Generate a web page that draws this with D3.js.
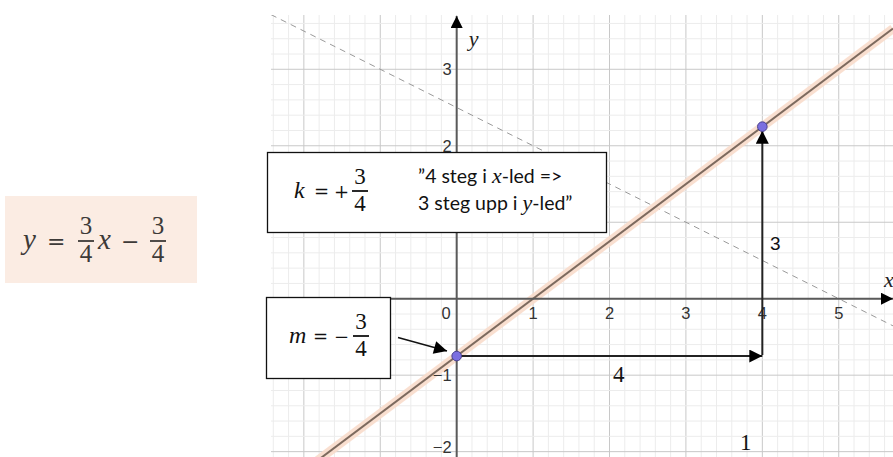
<!DOCTYPE html>
<html><head><meta charset="utf-8">
<script src="https://cdn.jsdelivr.net/npm/d3@7"></script>
<style>html,body{margin:0;padding:0;background:#fff;}svg{display:block;}</style>
</head><body>
<svg id="c" width="893" height="457"></svg>
<script>
// ---- data ----
const xTickValues = [1, 2, 3, 4, 5];
const yTickValues = [-2, -1, 2, 3];
const originLabel = "0";
const slopeNum = 3, slopeDen = 4;            // k = 3/4
const interceptNum = -3, interceptDen = 4;   // m = -3/4
const mainLine = { k: 0.75, m: -0.75 };
const dashedLine = { k: -0.5, m: 2.5 };
const points = [[0, -0.75], [4, 2.25]];
const runArrow = [[0, -0.75], [4, -0.75]];   // "4 steg i x-led"
const riseArrow = [[4, -0.75], [4, 2.25]];   // "3 steg upp"
const xDomain = [-2.43, 5.71];
const yDomain = [3.71, -2.07];

const svg = d3.select("#c");
const x = d3.scaleLinear().domain(xDomain).range([271, 893]);
const y = d3.scaleLinear().domain(yDomain).range([15, 457]);

const defs = svg.append("defs");
defs.append("clipPath").attr("id", "plot").append("rect")
  .attr("x", 271).attr("y", 15).attr("width", 622).attr("height", 442);
function marker(id, w, h) {
  defs.append("marker").attr("id", id).attr("viewBox", "0 0 10 10")
    .attr("refX", 10).attr("refY", 5).attr("markerUnits", "userSpaceOnUse")
    .attr("markerWidth", w).attr("markerHeight", h).attr("orient", "auto")
    .append("path").attr("d", "M0,0 L10,5 L0,10 Z").attr("fill", "#000");
}
marker("ah", 15, 13);
marker("ahAxis", 20, 12);

const g = svg.append("g").attr("clip-path", "url(#plot)");

// grid
const minor = d3.range(Math.ceil(xDomain[0] * 5), Math.floor(xDomain[1] * 5) + 1).map(v => v / 5);
const minorY = d3.range(Math.ceil(yDomain[1] * 5), Math.floor(yDomain[0] * 5) + 1).map(v => v / 5);
const isMajor = d => Math.abs(d - Math.round(d)) < 1e-9;
g.selectAll(".mx").data(minor).join("line")
  .attr("x1", d => x(d)).attr("x2", d => x(d)).attr("y1", 15).attr("y2", 457)
  .attr("stroke-width", 1)
  .attr("stroke", d => isMajor(d) ? "#c8c8c8" : "#ececec");
g.selectAll(".my").data(minorY).join("line")
  .attr("y1", d => y(d)).attr("y2", d => y(d)).attr("x1", 271).attr("x2", 893)
  .attr("stroke", d => isMajor(d) ? "#c8c8c8" : "#ececec");

// dashed line
g.append("line")
  .attr("x1", x(xDomain[0])).attr("y1", y(dashedLine.k * xDomain[0] + dashedLine.m))
  .attr("x2", x(xDomain[1])).attr("y2", y(dashedLine.k * xDomain[1] + dashedLine.m))
  .attr("stroke", "#9a9a9a").attr("stroke-width", 1).attr("stroke-dasharray", "6,5");

// axes
svg.append("line").attr("x1", 271).attr("x2", 893).attr("y1", y(0)).attr("y2", y(0))
  .attr("stroke", "#5a5a5a").attr("stroke-width", 2).attr("marker-end", "url(#ahAxis)");
svg.append("line").attr("x1", x(0)).attr("x2", x(0)).attr("y1", 457).attr("y2", 16)
  .attr("stroke", "#5a5a5a").attr("stroke-width", 2).attr("marker-end", "url(#ahAxis)");

// tick labels
const tickFont = "'Liberation Sans', Arial, sans-serif";
const tickSize = 16.5;
svg.selectAll(".xt").data(xTickValues).join("text")
  .attr("x", d => x(d)).attr("y", y(0) + 20).attr("text-anchor", "middle")
  .attr("font-family", tickFont).attr("font-size", tickSize).attr("fill", "#333").text(d => d);
svg.append("text").attr("x", x(0) - 6).attr("y", y(0) + 20).attr("text-anchor", "end")
  .attr("font-family", tickFont).attr("font-size", tickSize).attr("fill", "#333").text(originLabel);
svg.selectAll(".yt").data(yTickValues).join("text")
  .attr("x", x(0) - 5).attr("y", d => y(d) + (d === -2 ? 1 : 6)).attr("text-anchor", "end")
  .attr("font-family", tickFont).attr("font-size", tickSize).attr("fill", "#333")
  .text(d => d < 0 ? "\u2212" + Math.abs(d) : d);
const mathFont = "'Liberation Serif', 'Times New Roman', serif";
const opFont = "'DejaVu Serif', serif";
svg.append("text").attr("x", x(0) + 12).attr("y", 46).attr("font-family", mathFont)
  .attr("font-style", "italic").attr("font-size", 22).attr("fill", "#222").text("y");
svg.append("text").attr("x", 884).attr("y", 287).attr("font-family", mathFont)
  .attr("font-style", "italic").attr("font-size", 22).attr("fill", "#222").text("x");

// main line with halo
const mx0 = xDomain[0], mx1 = xDomain[1];
g.append("line")
  .attr("x1", x(mx0)).attr("y1", y(mainLine.k * mx0 + mainLine.m))
  .attr("x2", x(mx1)).attr("y2", y(mainLine.k * mx1 + mainLine.m))
  .attr("stroke", "#f8dccb").attr("stroke-width", 9).attr("stroke-opacity", 0.9);
g.append("line")
  .attr("x1", x(mx0)).attr("y1", y(mainLine.k * mx0 + mainLine.m))
  .attr("x2", x(mx1)).attr("y2", y(mainLine.k * mx1 + mainLine.m))
  .attr("stroke", "#7d6a5e").attr("stroke-width", 2);

// step arrows
svg.append("line").attr("x1", x(runArrow[0][0]) + 4).attr("y1", y(runArrow[0][1]))
  .attr("x2", x(runArrow[1][0])).attr("y2", y(runArrow[1][1]))
  .attr("stroke", "#222").attr("stroke-width", 2).attr("marker-end", "url(#ah)");
svg.append("line").attr("x1", x(riseArrow[0][0])).attr("y1", y(riseArrow[0][1]) - 1)
  .attr("x2", x(riseArrow[1][0])).attr("y2", y(riseArrow[1][1]) + 4)
  .attr("stroke", "#222").attr("stroke-width", 2).attr("marker-end", "url(#ah)");

// points
svg.selectAll(".pt").data(points).join("circle")
  .attr("cx", d => x(d[0])).attr("cy", d => y(d[1])).attr("r", 4.8)
  .attr("fill", "#7b6fe0").attr("stroke", "#4a4290").attr("stroke-width", 1);

// step labels
svg.append("text").attr("x", 770).attr("y", 250).attr("font-family", "'Liberation Sans', sans-serif")
  .attr("font-size", 19).attr("fill", "#111").text(slopeNum);
svg.append("text").attr("x", 613).attr("y", 382).attr("font-family", mathFont)
  .attr("font-size", 23).attr("fill", "#111").text(slopeDen);
svg.append("text").attr("x", 740).attr("y", 450).attr("font-family", mathFont)
  .attr("font-size", 23).attr("fill", "#111").text("1");

// fraction helper
function frac(parent, cx, barY, num, den, size, color) {
  parent.append("text").attr("x", cx).attr("y", barY - 7).attr("text-anchor", "middle")
    .attr("font-family", mathFont).attr("font-size", size).attr("fill", color).text(num);
  parent.append("line").attr("x1", cx - 8).attr("x2", cx + 8).attr("y1", barY).attr("y2", barY)
    .attr("stroke", color).attr("stroke-width", 1.8);
  parent.append("text").attr("x", cx).attr("y", barY + size * 0.85).attr("text-anchor", "middle")
    .attr("font-family", mathFont).attr("font-size", size).attr("fill", color).text(den);
}
function txt(parent, x0, y0, s, size, color, font, italic) {
  return parent.append("text").attr("x", x0).attr("y", y0).attr("font-family", font)
    .attr("font-size", size).attr("fill", color).attr("font-style", italic ? "italic" : "normal").text(s);
}

// formula box
svg.append("rect").attr("x", 5).attr("y", 196).attr("width", 192).attr("height", 87).attr("fill", "#fbece3");
const fc = "#3d3a38";
const f = svg.append("g");
txt(f, 23, 249, "y", 29, fc, mathFont, true);
txt(f, 47, 249, "=", 22, fc, opFont, false);
frac(f, 86, 241, slopeNum, slopeDen, 25, fc);
txt(f, 98, 249, "x", 29, fc, mathFont, true);
txt(f, 121, 249, "\u2212", 22, fc, opFont, false);
frac(f, 158, 241, Math.abs(interceptNum), interceptDen, 25, fc);

// k box
svg.append("rect").attr("x", 267.5).attr("y", 152.5).attr("width", 339).attr("height", 80)
  .attr("fill", "#fff").attr("stroke", "#111").attr("stroke-width", 1.3);
const kb = svg.append("g");
txt(kb, 294, 198, "k", 24, "#111", mathFont, true);
txt(kb, 314, 198, "=", 18, "#111", opFont, false);
txt(kb, 334, 198, "+", 18, "#111", opFont, false);
frac(kb, 360, 191, slopeNum, slopeDen, 23, "#111");
const tf = "Lato, 'Open Sans', sans-serif";
const t1 = kb.append("text").attr("x", 418).attr("y", 183).attr("font-family", tf).attr("font-size", 19.5).attr("fill", "#111");
t1.append("tspan").text("\u201D4 steg i ");
t1.append("tspan").attr("font-family", mathFont).attr("font-style", "italic").attr("font-size", 22).text("x");
t1.append("tspan").text("-led =>");
const t2 = kb.append("text").attr("x", 418).attr("y", 210).attr("font-family", tf).attr("font-size", 19.5).attr("fill", "#111");
t2.append("tspan").text("3 steg upp i ");
t2.append("tspan").attr("font-family", mathFont).attr("font-style", "italic").attr("font-size", 22).text("y");
t2.append("tspan").text("-led\u201D");

// m box
svg.append("rect").attr("x", 266.5).attr("y", 297.5).attr("width", 124).attr("height", 81)
  .attr("fill", "#fff").attr("stroke", "#111").attr("stroke-width", 1.3);
const mb = svg.append("g");
txt(mb, 289, 343, "m", 24, "#111", mathFont, true);
txt(mb, 313, 343, "=", 18, "#111", opFont, false);
txt(mb, 334, 343, "\u2212", 18, "#111", opFont, false);
frac(mb, 361, 336, Math.abs(interceptNum), interceptDen, 23, "#111");
svg.append("line").attr("x1", 398).attr("y1", 337.5).attr("x2", 447).attr("y2", 351)
  .attr("stroke", "#111").attr("stroke-width", 1.5).attr("marker-end", "url(#ah)");
</script>
</body></html>
